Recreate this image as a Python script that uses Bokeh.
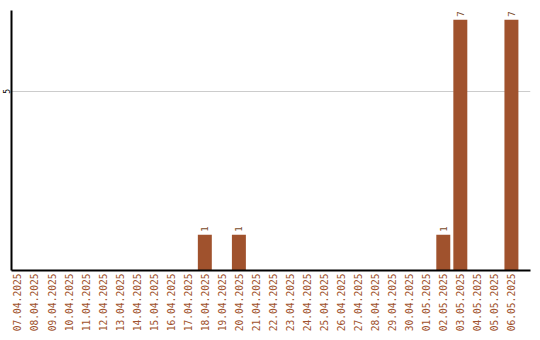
import math
from bokeh.plotting import figure
from bokeh.models import ColumnDataSource, FixedTicker, Range1d
from bokeh.core.properties import value
from bokeh.embed import file_html
from bokeh.resources import INLINE

# Daily counts
dates = [
    "07.04.2025", "08.04.2025", "09.04.2025", "10.04.2025", "11.04.2025",
    "12.04.2025", "13.04.2025", "14.04.2025", "15.04.2025", "16.04.2025",
    "17.04.2025", "18.04.2025", "19.04.2025", "20.04.2025", "21.04.2025",
    "22.04.2025", "23.04.2025", "24.04.2025", "25.04.2025", "26.04.2025",
    "27.04.2025", "28.04.2025", "29.04.2025", "30.04.2025", "01.05.2025",
    "02.05.2025", "03.05.2025", "04.05.2025", "05.05.2025", "06.05.2025",
]
counts = [0, 0, 0, 0, 0, 0, 0, 0, 0, 0,
          0, 1, 0, 1, 0, 0, 0, 0, 0, 0,
          0, 0, 0, 0, 0, 1, 7, 0, 0, 7]
y_ticks = [5]

BAR = "#A0522D"
FONT = "DejaVu Sans Mono"

xs = list(range(len(dates)))
src = ColumnDataSource(dict(x=xs, top=counts))

nz = [i for i, c in enumerate(counts) if c > 0]
lbl_src = ColumnDataSource(dict(
    x=[xs[i] for i in nz],
    y=[counts[i] for i in nz],
    t=[str(counts[i]) for i in nz],
))

p = figure(width=540, height=340, output_backend="svg", toolbar_location=None,
           x_range=Range1d(-0.35, 30.12), y_range=Range1d(0, 7.26))
p.min_border_left = 11
p.min_border_right = 10
p.min_border_top = 10
p.min_border_bottom = 70
p.outline_line_color = None
p.background_fill_color = "white"
p.border_fill_color = "white"

p.vbar(x="x", top="top", width=0.82, source=src, fill_color=BAR, line_color=None)
p.text(x="x", y="y", text="t", source=lbl_src, angle=math.pi / 2,
       text_align="left", text_baseline="middle", y_offset=-3,
       text_font=value(FONT), text_font_size="9px", text_color="#7a4a2a")

# x axis: one label per day, reading upwards
p.xaxis.ticker = FixedTicker(ticks=xs)
p.xaxis.major_label_overrides = {i: d for i, d in enumerate(dates)}
p.xaxis.major_label_orientation = math.pi / 2
p.xaxis.major_label_text_font = FONT
p.xaxis.major_label_text_font_size = "9.6px"
p.xaxis.major_label_text_color = BAR
p.xaxis.major_label_standoff = 3
p.xaxis.major_tick_out = 0
p.xaxis.major_tick_in = 0
p.xaxis.major_tick_line_color = None
p.xaxis.minor_tick_line_color = None
p.xaxis.axis_line_color = "black"
p.xaxis.axis_line_width = 2

# y axis: a narrow axis with a single vertical tick label
p.yaxis.ticker = FixedTicker(ticks=y_ticks)
p.yaxis.major_label_orientation = "vertical"
p.yaxis.major_label_text_font = FONT
p.yaxis.major_label_text_font_size = "8px"
p.yaxis.major_label_text_color = "black"
p.yaxis.major_label_standoff = 1
p.yaxis.major_tick_out = 0
p.yaxis.major_tick_in = 0
p.yaxis.minor_tick_out = 0
p.yaxis.minor_tick_in = 0
p.yaxis.major_tick_line_color = None
p.yaxis.minor_tick_line_color = None
p.yaxis.axis_line_color = "black"
p.yaxis.axis_line_width = 2

p.xgrid.grid_line_color = None
p.ygrid.ticker = FixedTicker(ticks=y_ticks)
p.ygrid.grid_line_color = "#cccccc"
p.ygrid.grid_line_width = 1

open("out.html", "w").write(file_html(p, INLINE))
